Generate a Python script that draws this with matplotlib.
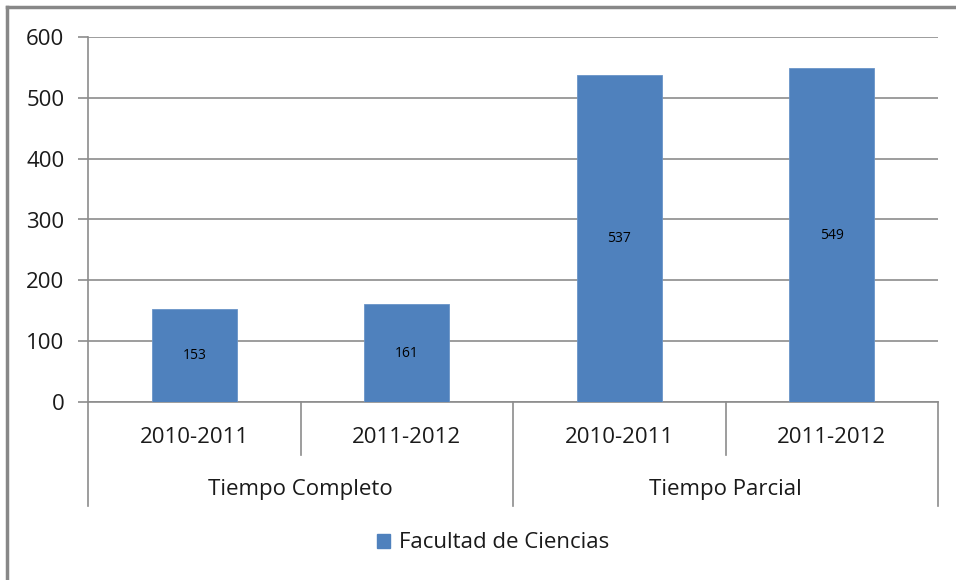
import matplotlib.pyplot as plt
from matplotlib.lines import Line2D
from matplotlib.patches import Patch

# data
categories = ["2010-2011", "2011-2012", "2010-2011", "2011-2012"]
groups = ["Tiempo Completo", "Tiempo Parcial"]
group_sizes = [2, 2]
values = [153, 161, 537, 549]
series_name = "Facultad de Ciencias"
yticks = [0, 100, 200, 300, 400, 500, 600]

plt.rcParams['font.family'] = ['Open Sans', 'DejaVu Sans']

bar_color = '#4F81BD'
grid_color = '#8C8C8C'
text_color = '#1a1a1a'
fs = 16

fig = plt.figure(figsize=(9.56, 5.8), dpi=100)
ax = fig.add_axes([88 / 956, 1 - 402 / 580, 850 / 956, 365 / 580])

x = list(range(len(categories)))
bars = ax.bar(x, values, width=0.4, color=bar_color, edgecolor='#6a94c8', linewidth=0.6, zorder=3)

for xi, v in zip(x, values):
    ax.text(xi, v / 2, str(v), ha='center', va='center', fontsize=10, color='black', zorder=4)

ax.set_xlim(-0.5, len(categories) - 0.5)
ax.set_ylim(0, 600)
ax.set_yticks(yticks)
ax.set_yticklabels([str(t) for t in yticks], fontsize=fs, color=text_color)
ax.yaxis.grid(True, color=grid_color, linewidth=1.2, zorder=0)
ax.tick_params(axis='y', length=7, width=1.2, color=grid_color, pad=10)

ax.set_xticks(x)
ax.set_xticklabels(categories, fontsize=fs, color=text_color)
ax.tick_params(axis='x', length=0, pad=18)

for side in ['top', 'right']:
    ax.spines[side].set_visible(False)
for side in ['left', 'bottom']:
    ax.spines[side].set_color(grid_color)
    ax.spines[side].set_linewidth(1.2)

# multi-level category axis
trans = ax.get_xaxis_transform()
inner_depth = -53 / 365
outer_depth = -104 / 365
start = -0.5
ax.plot([start, start], [0, outer_depth], transform=trans, color=grid_color, lw=1.2, clip_on=False)
for name, size in zip(groups, group_sizes):
    for k in range(1, size):
        xs = start + k
        ax.plot([xs, xs], [0, inner_depth], transform=trans, color=grid_color, lw=1.2, clip_on=False)
    end = start + size
    ax.plot([end, end], [0, outer_depth], transform=trans, color=grid_color, lw=1.2, clip_on=False)
    ax.text((start + end) / 2, -88 / 365, name, transform=trans, ha='center', va='center',
            fontsize=fs, color=text_color)
    start = end

# legend
handle = Patch(facecolor=bar_color, edgecolor=bar_color)
fig.legend([handle], [series_name], loc='center', bbox_to_anchor=(493 / 956, 1 - 543 / 580),
           frameon=False, fontsize=fs, handlelength=0.6, handleheight=0.6, handletextpad=0.4,
           labelcolor=text_color)

# outer chart frame (top and left edges visible)
fig.add_artist(Line2D([7 / 956, 7 / 956], [0, 1 - 7 / 580], transform=fig.transFigure,
                      color='#888888', lw=2.5))
fig.add_artist(Line2D([7 / 956, 1.01], [1 - 7 / 580, 1 - 7 / 580], transform=fig.transFigure,
                      color='#888888', lw=2.5))

fig.savefig('out.png', dpi=100)
